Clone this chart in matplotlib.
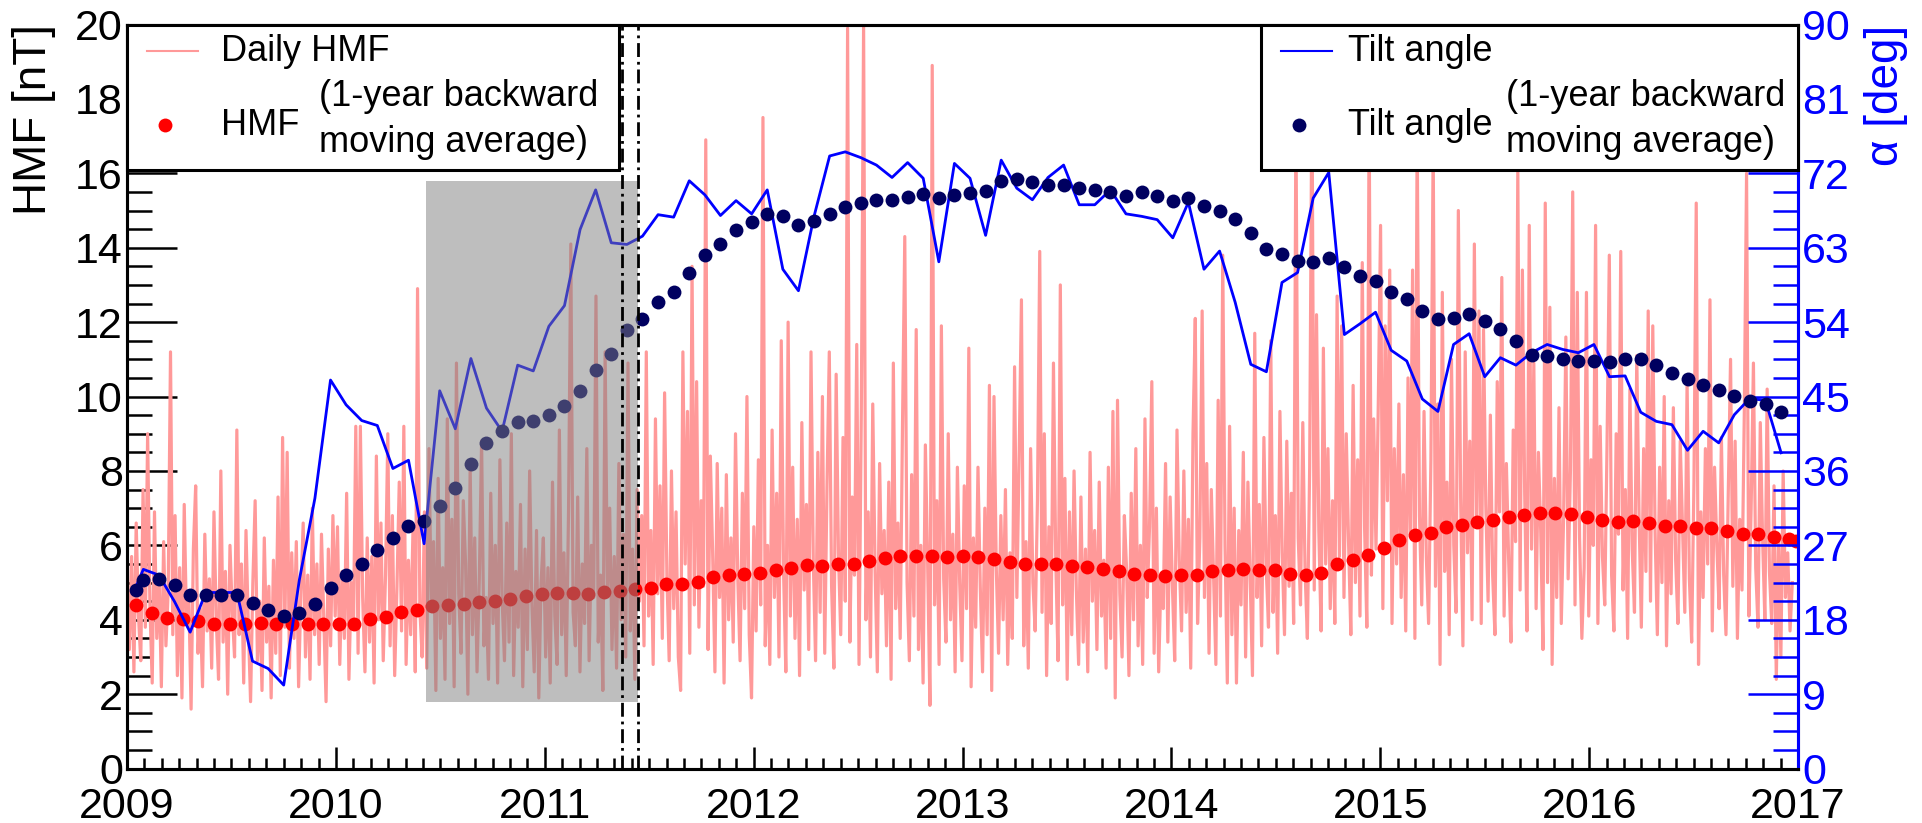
import numpy as np
import matplotlib
matplotlib.use("Agg")
import matplotlib.pyplot as plt
from matplotlib.lines import Line2D
from matplotlib.patches import Rectangle
from matplotlib.ticker import MultipleLocator

plt.rcParams["font.family"] = ["Liberation Sans", "DejaVu Sans"]
plt.rcParams["lines.scale_dashes"] = False

CR_YEARS = 27.2753 / 365.25   # one Carrington rotation, in years
DAY_STEP = 4 / 365.25         # spacing of the daily HMF samples kept below

# daily HMF [nT], one sample every 4 days starting 2009-01-01
hmf_daily_2009 = [
    4.9, 3.2, 5.7, 2.6, 6.6, 4.1, 2.9, 7.5, 3.8, 9.0,
    4.4, 2.3, 6.9, 3.5, 5.2, 2.2, 6.1, 3.3, 4.8, 11.2,
    3.6, 6.8, 2.5, 5.4, 1.9, 7.1, 3.9, 4.6, 1.6, 5.9,
    7.6, 3.1, 4.3, 2.2, 6.3, 3.7, 5.1, 2.7, 6.9, 4.0,
    2.4, 8.0, 3.4, 5.3, 2.0, 6.0, 4.2, 3.0, 9.1, 3.6,
    5.5, 2.3, 6.4, 3.9, 1.8, 5.0, 7.2, 2.9, 4.5, 2.1,
    6.2, 3.4, 4.9, 1.9, 5.6, 3.1, 7.3, 2.5, 8.9, 3.8,
    8.5, 2.7, 5.8, 3.5, 6.1, 2.2, 4.7, 6.6, 3.0, 5.2,
    2.4, 7.0, 3.6, 5.5, 2.8, 6.3, 4.0, 1.8, 5.9, 3.3, 6.8]
hmf_daily_2010 = [
    4.1, 6.5, 2.8, 5.3, 3.5, 7.4, 2.4, 5.0, 3.9, 9.2,
    3.1, 9.2, 4.6, 2.6, 6.2, 3.4, 5.7, 2.3, 8.4, 4.0,
    6.6, 2.9, 5.2, 9.0, 3.3, 6.8, 2.5, 4.9, 7.7, 3.7,
    9.2, 2.8, 5.6, 3.6, 6.4, 2.6, 12.9, 4.3, 3.0, 6.9,
    2.7, 8.6, 4.4, 6.1, 2.1, 7.8, 3.5, 5.4, 2.4, 9.4,
    3.9, 6.7, 2.2, 10.9, 4.7, 3.1, 7.2, 5.5, 2.0, 8.1,
    3.6, 6.2, 2.6, 5.1, 8.8, 3.3, 4.6, 2.4, 7.4, 3.9,
    6.0, 2.3, 8.3, 4.5, 2.9, 6.6, 3.4, 9.0, 2.5, 5.3,
    3.8, 7.1, 2.2, 5.9, 3.2, 8.0, 4.4, 2.6, 6.4, 1.9, 5.0]
hmf_daily_2011 = [
    6.2, 3.0, 5.4, 2.3, 7.7, 4.1, 2.8, 9.1, 3.6, 5.8,
    2.5, 6.9, 14.1, 4.2, 3.3, 7.3, 2.6, 5.5, 3.9, 8.6,
    2.9, 6.0, 4.6, 12.7, 3.4, 5.2, 2.1, 11.2, 4.8, 7.0,
    3.2, 5.7, 2.7, 8.2, 4.0, 6.3, 3.0, 10.9, 3.7, 5.9,
    2.4, 7.5, 4.5, 6.8, 3.3, 11.2, 4.1, 6.4, 2.8, 9.4,
    4.7, 7.6, 3.5, 10.1, 5.2, 2.9, 8.0, 4.3, 6.9, 3.0,
    2.1, 11.2, 5.5, 9.6, 3.1, 13.5, 4.4, 10.4, 3.8, 7.2,
    4.9, 16.9, 3.2, 8.4, 5.8, 2.6, 8.2, 4.6, 7.0, 2.3,
    7.9, 4.0, 6.2, 3.4, 9.0, 5.1, 2.9, 7.4, 4.3, 10.0, 3.6]
hmf_daily_2012 = [
    1.9, 6.5, 3.7, 8.3, 4.4, 17.5, 3.3, 6.0, 2.8, 9.1,
    4.6, 7.4, 3.0, 11.5, 5.3, 2.6, 12.0, 4.1, 8.1, 3.5,
    6.7, 2.5, 9.3, 4.8, 7.1, 3.2, 11.2, 5.6, 2.9, 8.5,
    4.2, 10.0, 3.1, 7.6, 11.2, 4.9, 2.7, 10.6, 5.8, 3.6,
    8.9, 4.5, 19.9, 3.4, 7.3, 5.2, 11.4, 2.8, 9.6, 20.0,
    4.0, 6.9, 3.0, 9.8, 5.4, 2.6, 8.2, 4.7, 6.4, 3.3,
    7.7, 2.4, 10.9, 4.3, 6.6, 3.5, 9.2, 14.3, 5.0, 2.9,
    7.9, 4.1, 11.8, 3.2, 6.0, 2.3, 8.7, 5.5, 1.7, 18.9,
    4.4, 7.2, 2.8, 11.9, 5.1, 3.4, 9.0, 4.0, 6.3, 2.6, 8.1]
hmf_daily_2013 = [
    5.0, 2.9, 7.6, 4.3, 11.3, 2.2, 6.2, 3.8, 8.1, 4.9,
    2.6, 7.0, 3.6, 10.3, 2.1, 10.0, 5.4, 3.1, 6.8, 4.0,
    7.5, 2.8, 5.8, 3.5, 10.8, 4.6, 8.4, 12.6, 3.3, 6.1,
    2.7, 8.6, 5.0, 3.7, 7.2, 13.9, 4.2, 9.0, 2.5, 6.5,
    3.9, 10.9, 5.6, 2.9, 13.0, 4.4, 7.8, 2.4, 6.9, 3.6,
    8.0, 4.8, 2.8, 7.3, 3.4, 5.9, 2.6, 8.5, 4.5, 6.4,
    3.2, 7.7, 4.1, 5.6, 2.7, 8.1, 3.5, 9.6, 1.9, 9.9,
    4.7, 3.0, 6.8, 5.3, 2.5, 7.4, 4.0, 8.6, 3.3, 6.0,
    2.8, 9.4, 4.6, 6.5, 10.4, 3.1, 7.0, 2.6, 5.2, 4.3, 8.2]
hmf_daily_2014 = [
    3.4, 7.3, 4.9, 2.9, 9.1, 5.6, 3.7, 8.0, 4.2, 6.7,
    2.7, 9.0, 12.1, 3.9, 6.2, 12.3, 4.6, 8.2, 3.1, 7.5,
    5.2, 2.8, 9.9, 4.1, 13.8, 6.0, 2.3, 9.2, 3.6, 7.0,
    2.3, 6.4, 4.4, 8.5, 3.0, 7.7, 5.1, 2.5, 11.7, 4.6,
    7.1, 3.3, 8.9, 5.4, 3.8, 11.5, 4.2, 6.8, 3.1, 9.6,
    5.8, 3.6, 8.8, 4.9, 7.4, 3.9, 17.5, 6.2, 4.4, 9.3,
    5.3, 3.5, 8.1, 18.5, 4.8, 12.2, 6.4, 3.7, 11.3, 5.5,
    8.6, 4.3, 7.2, 3.9, 12.7, 5.7, 11.9, 4.6, 9.0, 6.1,
    3.6, 10.3, 5.0, 8.3, 4.1, 13.6, 6.5, 3.8, 17.6, 5.2, 9.4]
hmf_daily_2015 = [
    5.9, 9.8, 14.6, 4.3, 11.9, 7.2, 13.4, 3.9, 8.6, 5.5,
    9.8, 4.6, 7.9, 3.7, 10.5, 6.3, 13.4, 3.5, 17.2, 6.8,
    4.4, 9.6, 5.7, 3.9, 8.3, 16.8, 4.9, 9.8, 2.8, 12.8,
    5.3, 7.7, 3.6, 11.0, 6.0, 4.2, 15.0, 7.3, 3.3, 11.2,
    5.8, 8.8, 4.0, 14.1, 6.6, 12.3, 3.9, 11.8, 7.1, 4.5,
    9.5, 5.2, 3.6, 10.4, 6.9, 13.2, 4.1, 8.2, 5.6, 3.4,
    9.1, 6.1, 16.1, 4.8, 13.4, 7.4, 3.7, 14.6, 5.9, 10.9,
    4.3, 8.5, 6.4, 3.2, 15.2, 5.0, 12.4, 2.8, 7.8, 4.6,
    9.7, 3.9, 6.7, 11.6, 5.1, 8.0, 15.5, 4.4, 12.8, 6.2, 3.5]
hmf_daily_2016 = [
    5.4, 12.8, 4.1, 8.3, 6.0, 14.6, 3.9, 9.2, 5.7, 4.4,
    8.7, 13.8, 5.2, 3.7, 9.0, 6.3, 13.9, 4.8, 7.5, 3.5,
    10.2, 5.9, 4.2, 11.1, 6.8, 3.8, 8.6, 5.3, 12.3, 4.5,
    11.9, 6.4, 3.6, 8.1, 5.0, 10.0, 3.3, 7.2, 4.7, 9.7,
    5.6, 3.9, 8.8, 6.5, 4.2, 10.4, 5.1, 3.4, 7.7, 15.2,
    2.8, 6.9, 4.6, 8.6, 5.5, 12.6, 3.7, 8.1, 6.0, 4.3,
    8.9, 5.2, 3.6, 7.4, 11.0, 4.9, 8.8, 3.5, 6.7, 4.8,
    9.5, 16.0, 4.1, 7.0, 10.9, 5.4, 3.8, 9.3, 6.2, 4.0,
    10.2, 5.3, 3.9, 7.6, 2.4, 6.1, 3.0, 8.0, 4.6, 5.8, 3.7, 5.0]

# HMF, 1-year backward moving average [nT], one value per rotation
hmf_avg = [
    4.41, 4.19, 4.05, 4.03, 3.96, 3.89, 3.89, 3.90, 3.92, 3.89,
    3.88, 3.90, 3.89, 3.90, 3.89, 4.01, 4.07, 4.20, 4.27, 4.37,
    4.41, 4.43, 4.47, 4.50, 4.56, 4.63, 4.69, 4.72, 4.72, 4.69,
    4.76, 4.78, 4.82, 4.86, 4.95, 4.97, 5.02, 5.14, 5.21, 5.24,
    5.27, 5.33, 5.40, 5.46, 5.44, 5.50, 5.50, 5.57, 5.66, 5.71,
    5.71, 5.71, 5.68, 5.72, 5.69, 5.63, 5.55, 5.50, 5.50, 5.49,
    5.44, 5.42, 5.36, 5.31, 5.23, 5.21, 5.18, 5.21, 5.21, 5.31,
    5.33, 5.36, 5.33, 5.33, 5.24, 5.21, 5.27, 5.49, 5.62, 5.75,
    5.94, 6.14, 6.27, 6.32, 6.49, 6.56, 6.63, 6.68, 6.75, 6.81,
    6.88, 6.88, 6.84, 6.77, 6.68, 6.62, 6.65, 6.59, 6.53, 6.52,
    6.47, 6.47, 6.39, 6.30, 6.30, 6.23, 6.17, 6.11]

# heliospheric current sheet tilt angle [deg], one value per rotation
tilt = [
    22.0, 24.1, 23.4, 20.2, 16.5, 21.3, 21.3, 21.3, 13.0, 12.1,
    10.1, 22.8, 32.7, 47.0, 44.0, 42.1, 41.5, 36.3, 37.3, 27.2,
    45.7, 41.1, 49.6, 43.6, 40.8, 48.8, 48.1, 53.5, 56.0, 65.2,
    70.0, 63.6, 63.4, 64.4, 67.0, 66.7, 71.1, 69.4, 66.9, 68.7,
    67.1, 70.0, 60.4, 57.8, 66.8, 74.1, 74.6, 73.9, 73.0, 71.5,
    73.3, 71.4, 61.3, 73.2, 71.4, 64.5, 73.6, 70.2, 68.8, 71.5,
    73.0, 68.2, 68.2, 70.0, 67.1, 66.8, 66.4, 64.2, 68.5, 60.4,
    62.6, 56.4, 48.9, 48.0, 58.8, 60.0, 69.0, 72.1, 52.5, 53.8,
    55.2, 50.6, 49.3, 44.7, 43.2, 51.3, 52.6, 47.4, 49.7, 48.8,
    50.3, 51.3, 50.7, 50.3, 51.3, 47.4, 47.5, 43.1, 42.0, 41.6,
    38.5, 40.8, 39.4, 42.8, 44.8, 44.5, 38.2]

# tilt angle, 1-year backward moving average [deg]
tilt_avg = [
    21.6, 22.8, 22.9, 22.2, 21.0, 21.0, 21.0, 21.0, 20.0, 19.2,
    18.5, 18.8, 19.9, 21.9, 23.4, 24.8, 26.4, 27.9, 29.3, 29.9,
    31.8, 34.0, 36.8, 39.4, 40.8, 41.9, 42.1, 42.8, 43.8, 45.7,
    48.2, 50.2, 53.0, 54.4, 56.4, 57.7, 59.9, 62.1, 63.5, 65.1,
    66.1, 67.1, 66.8, 65.8, 66.2, 67.1, 67.9, 68.4, 68.8, 68.8,
    69.1, 69.5, 69.0, 69.4, 69.6, 69.9, 71.1, 71.3, 70.9, 70.6,
    70.6, 70.2, 70.0, 69.7, 69.3, 69.7, 69.2, 68.7, 69.0, 68.0,
    67.4, 66.5, 64.8, 62.9, 62.2, 61.4, 61.3, 61.8, 60.7, 59.6,
    59.0, 57.7, 56.8, 55.4, 54.4, 54.5, 55.0, 54.1, 53.2, 51.7,
    50.0, 49.9, 49.6, 49.3, 49.3, 49.2, 49.5, 49.5, 48.8, 47.9,
    47.1, 46.4, 45.8, 45.1, 44.5, 44.1, 43.1]

shade_years = (2010.43, 2011.445)
shade_hmf = (1.8, 15.8)
event_years = [2011.37, 2011.445]
year_ticks = list(range(2009, 2018))

hmf_daily = (hmf_daily_2009 + hmf_daily_2010 + hmf_daily_2011 + hmf_daily_2012
             + hmf_daily_2013 + hmf_daily_2014 + hmf_daily_2015 + hmf_daily_2016)
t_daily = 2009 + DAY_STEP * np.arange(len(hmf_daily))
t_hmf_avg = np.append(2009.043 + CR_YEARS * np.arange(len(hmf_avg) - 1), 2016.99)
t_tilt = np.append(2009.043, 2009.078 + CR_YEARS * np.arange(len(tilt) - 1))

PINK = "#ff9999"
NAVY = "#000060"
BLUE = "#0000ff"
FS_TICK = 31
FS_TITLE = 33
FS_LEG = 26

fig = plt.figure(figsize=(19.22, 8.23), dpi=100)
ax = fig.add_axes([0.0661, 0.0661, 0.8694, 0.9041])
ax2 = ax.twinx()

ax.plot(t_daily, hmf_daily, color=PINK, lw=2.3, zorder=2)
ax.plot(t_hmf_avg, hmf_avg, "o", color="red", ms=10, mec="none", zorder=3)

ax2.plot(t_tilt, tilt, color=BLUE, lw=2.0, zorder=3)
ax2.plot(t_tilt, tilt_avg, "o", color=NAVY, ms=10, mec="none", zorder=4)

# shaded period, given in HMF units
ax2.add_patch(Rectangle((shade_years[0], shade_hmf[0]), shade_years[1] - shade_years[0],
                        shade_hmf[1] - shade_hmf[0], transform=ax.transData,
                        facecolor="#7f7f7f", edgecolor="none", alpha=0.5, zorder=5))
for yr in event_years:
    ax2.axvline(yr, color="black", lw=2.0, ls=(0, (10, 3.5, 2, 3.5)), zorder=6)

ax.set_xlim(2009, 2017)
ax.set_ylim(0, 20)
ax2.set_ylim(0, 90)

ax.set_xticks(year_ticks, [str(y) for y in year_ticks])
ax.xaxis.set_minor_locator(MultipleLocator(1 / 12))
ax.yaxis.set_major_locator(MultipleLocator(2))
ax.yaxis.set_minor_locator(MultipleLocator(0.5))
ax2.yaxis.set_major_locator(MultipleLocator(9))
ax2.yaxis.set_minor_locator(MultipleLocator(2.25))

ax.tick_params(axis="y", which="major", direction="in", length=36, width=1.8,
               labelsize=FS_TICK, pad=3, right=False)
ax.tick_params(axis="y", which="minor", direction="in", length=18, width=1.8, right=False)
ax.tick_params(axis="x", which="major", direction="in", length=16, width=1.8,
               labelsize=FS_TICK, pad=13, top=False)
ax.tick_params(axis="x", which="minor", direction="in", length=8, width=1.8, top=False)
ax2.tick_params(axis="y", which="major", direction="in", length=36, width=1.8,
                colors=BLUE, labelsize=FS_TICK, pad=3)
ax2.tick_params(axis="y", which="minor", direction="in", length=18, width=1.8, colors=BLUE)

for a in (ax, ax2):
    for s in a.spines.values():
        s.set_linewidth(2.2)
ax2.spines["right"].set_color(BLUE)

fig.text(0.0175, 0.9702, "HMF [nT]", rotation=90, ha="center", va="top", fontsize=FS_TITLE)
fig.text(0.9815, 0.9702, "α [deg]", rotation=90, ha="center", va="top",
         fontsize=FS_TITLE, color=BLUE)


def legend_box(x0, x1, line_color, dot_color, name, avg_name, x_label, x_note):
    tr = ax2.transAxes
    ax2.add_patch(Rectangle((x0, 0.8045), x1 - x0, 1 - 0.8045, transform=tr,
                            facecolor="white", edgecolor="black", lw=2.2,
                            zorder=20, clip_on=False))
    ax2.add_line(Line2D([x0 + 0.012, x0 + 0.0425], [0.9644, 0.9644], transform=tr,
                        color=line_color, lw=1.5, zorder=21, clip_on=False))
    ax2.add_line(Line2D([x0 + 0.0225], [0.8644], transform=tr, marker="o",
                        color=dot_color, ms=10, mec="none", zorder=21, clip_on=False))
    ax2.text(x_label, 0.9644, name, transform=tr, fontsize=FS_LEG, va="center", zorder=22)
    ax2.text(x_label, 0.8644, avg_name, transform=tr, fontsize=FS_LEG, va="center", zorder=22)
    ax2.text(x_note, 0.9026, "(1-year backward", transform=tr, fontsize=FS_LEG,
             va="center", zorder=22)
    ax2.text(x_note, 0.8421, "moving average)", transform=tr, fontsize=FS_LEG,
             va="center", zorder=22)


legend_box(0.0, 0.2944, PINK, "red", "Daily HMF", "HMF", 0.0563, 0.1150)
legend_box(0.6786, 1.0, BLUE, NAVY, "Tilt angle", "Tilt angle", 0.7305, 0.8250)

fig.savefig("out.png", dpi=100)
